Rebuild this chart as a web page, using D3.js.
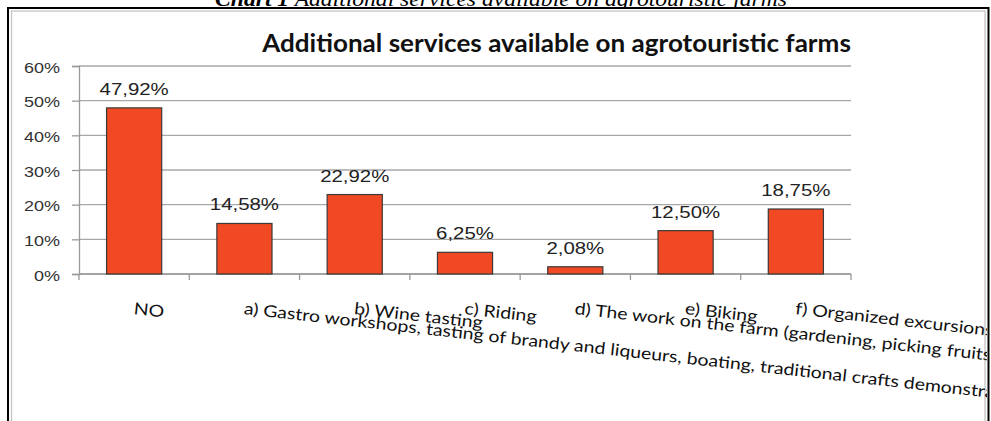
<!DOCTYPE html>
<html>
<head>
<meta charset="utf-8">
<script src="https://cdn.jsdelivr.net/npm/d3@7"></script>
<style>
  html, body { margin: 0; padding: 0; background: #fff; }
  svg { display: block; }
</style>
</head>
<body>
<svg id="chart" width="991" height="421"></svg>
<script>
// Survey results: share of farms offering each additional service
const categories = [
  "NO",
  "a) Gastro workshops, tasting of brandy and liqueurs, boating, traditional crafts demonstrations",
  "b) Wine tasting",
  "c) Riding",
  "d) The work on the farm (gardening, picking fruits)",
  "e) Biking",
  "f) Organized excursions"
];
const shares = [47.92, 14.58, 22.92, 6.25, 2.08, 12.50, 18.75];
const yTicks = [0, 10, 20, 30, 40, 50, 60];
const captionLead = "Chart 1";
const captionRest = " Additional services available on agrotouristic farms";
const chartTitle = "Additional services available on agrotouristic farms";

const svg = d3.select("#chart");
const W = 991, H = 421;
const plot = { left: 79, right: 851, top: 66, bottom: 274 };

// fit a text element to a given width by horizontal scaling
function stretchFactor(sel, width) {
  const w = sel.node().getComputedTextLength();
  return w > 0 ? width / w : 1;
}

// caption above the figure frame
const cap = svg.append("text")
  .attr("text-anchor", "middle")
  .style("font-family", "'Liberation Serif', 'Times New Roman', serif")
  .style("font-style", "italic")
  .style("font-size", "20px")
  .attr("fill", "#000");
cap.append("tspan").style("font-weight", "bold").text(captionLead);
cap.append("tspan").text(captionRest);
cap.attr("transform", `translate(501,5.5) scale(${stretchFactor(cap, 572)},1)`);

// figure frame
svg.append("rect")
  .attr("x", 8).attr("y", 8).attr("width", 980.5).attr("height", H)
  .attr("fill", "#fff").attr("stroke", "#000").attr("stroke-width", 2);
svg.append("rect")
  .attr("x", 11.5).attr("y", 11).attr("width", 973.5).attr("height", H)
  .attr("fill", "#fff").attr("stroke", "#c4c4c4").attr("stroke-width", 1.3);

// chart title
const title = svg.append("text")
  .attr("text-anchor", "middle")
  .style("font-family", "Lato, 'Open Sans', sans-serif")
  .style("font-weight", "bold")
  .style("font-size", "25px")
  .attr("fill", "#111")
  .text(chartTitle);
title.attr("transform", `translate(556.5,52) scale(${stretchFactor(title, 589)},1)`);

// scales
const x = d3.scaleBand()
  .domain(categories)
  .range([plot.left, plot.right])
  .paddingInner(0.5)
  .paddingOuter(0.25);
const y = d3.scaleLinear()
  .domain([0, 60])
  .range([plot.bottom, plot.top]);

const fmt = v => v.toFixed(2).replace(".", ",") + "%";

// horizontal gridlines
svg.append("g")
  .selectAll("line")
  .data(yTicks)
  .join("line")
  .attr("x1", plot.left).attr("x2", plot.right)
  .attr("y1", d => y(d)).attr("y2", d => y(d))
  .attr("stroke", "#a8a8a8")
  .attr("stroke-width", 1.3);

// y axis
const yAxis = svg.append("g")
  .attr("transform", `translate(${plot.left},0)`)
  .call(d3.axisLeft(y).tickValues(yTicks).tickSize(7).tickPadding(12).tickFormat(d => d + "%"));
yAxis.select(".domain").attr("stroke", "#9a9a9a").attr("stroke-width", 1.3);
yAxis.selectAll(".tick line").attr("stroke", "#9a9a9a").attr("stroke-width", 1.3);
yAxis.selectAll(".tick text")
  .attr("x", null).attr("dy", null)
  .attr("text-anchor", "end")
  .attr("transform", "translate(-19,6) scale(1.2,1)")
  .style("font-family", "'Liberation Sans', Arial, sans-serif")
  .style("font-size", "15px")
  .attr("fill", "#333");

// x axis line and category boundary ticks
const xAxis = svg.append("g");
xAxis.append("line")
  .attr("x1", plot.left).attr("x2", plot.right)
  .attr("y1", y(0)).attr("y2", y(0))
  .attr("stroke", "#9a9a9a").attr("stroke-width", 1.3);
xAxis.selectAll("line.tick")
  .data(d3.range(categories.length + 1))
  .join("line")
  .attr("class", "tick")
  .attr("x1", i => x.range()[0] + i * x.step())
  .attr("x2", i => x.range()[0] + i * x.step())
  .attr("y1", y(0)).attr("y2", y(0) + 6)
  .attr("stroke", "#9a9a9a").attr("stroke-width", 1.3);

// bars
svg.append("g")
  .selectAll("rect")
  .data(shares)
  .join("rect")
  .attr("x", (d, i) => x(categories[i]))
  .attr("width", x.bandwidth())
  .attr("y", d => y(d))
  .attr("height", d => y(0) - y(d))
  .attr("fill", "#f04923")
  .attr("stroke", "#3a3a3a")
  .attr("stroke-width", 1.2);

// value labels
svg.append("g")
  .selectAll("text")
  .data(shares)
  .join("text")
  .attr("text-anchor", "middle")
  .attr("transform", (d, i) => `translate(${x(categories[i]) + x.bandwidth() / 2},${y(d) - 13}) scale(1.2,1)`)
  .style("font-family", "'Liberation Sans', Arial, sans-serif")
  .style("font-size", "17px")
  .attr("fill", "#222")
  .text(fmt);

// category labels, slanted and clipped at the frame edge
svg.append("clipPath").attr("id", "frameClip")
  .append("rect").attr("x", 12).attr("y", 12).attr("width", 975).attr("height", H);
svg.append("g")
  .attr("clip-path", "url(#frameClip)")
  .selectAll("text")
  .data(categories)
  .join("text")
  .attr("transform", d => `translate(${x(d) + x.bandwidth() / 2 - 1},314) rotate(6.4) scale(1.18,1)`)
  .style("font-family", "Lato, 'Open Sans', sans-serif")
  .style("font-size", "16.5px")
  .attr("fill", "#111")
  .text(d => d);
</script>
</body>
</html>
